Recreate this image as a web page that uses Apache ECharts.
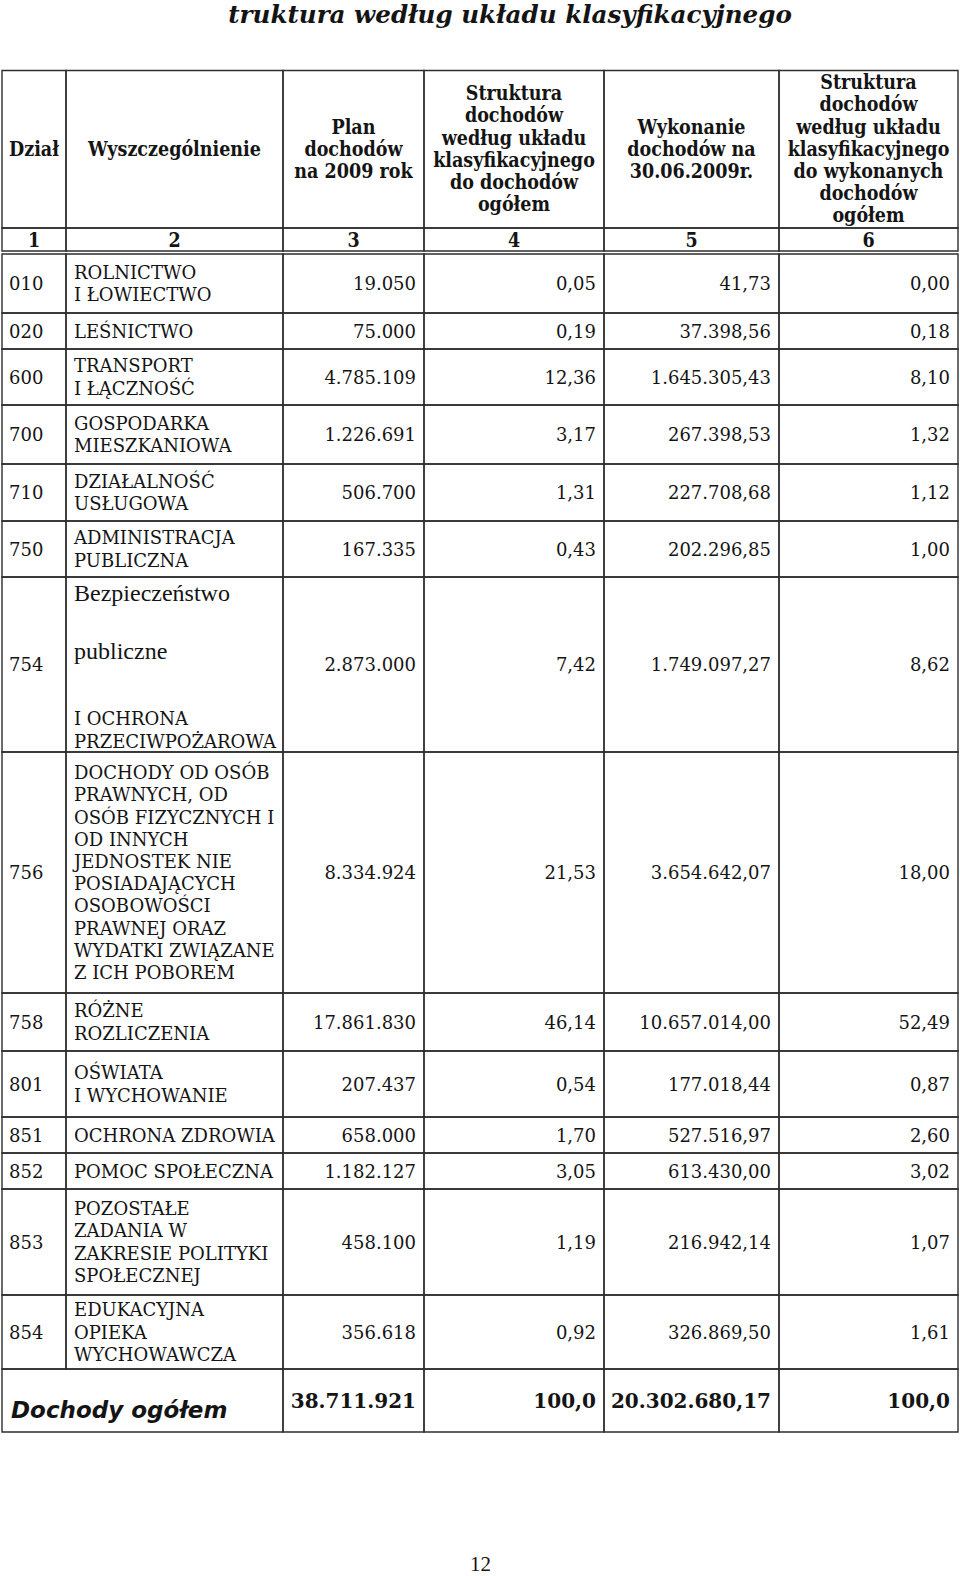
<!DOCTYPE html>
<html><head><meta charset="utf-8">
<script src="https://cdn.jsdelivr.net/npm/echarts@6/dist/echarts.min.js"></script>
<style>html,body{margin:0;padding:0;background:#fff}#c{width:960px;height:1576px}</style>
</head><body><div id="c"></div>
<script>
// ---------- DATA ----------
const title = 'truktura według układu klasyfikacyjnego';
const headers = [
  ['Dział'],
  ['Wyszczególnienie'],
  ['Plan', 'dochodów', 'na 2009 rok'],
  ['Struktura', 'dochodów', 'według układu', 'klasyfikacyjnego', 'do dochodów', 'ogółem'],
  ['Wykonanie', 'dochodów na', '30.06.2009r.'],
  ['Struktura', 'dochodów', 'według układu', 'klasyfikacyjnego', 'do wykonanych', 'dochodów', 'ogółem']
];
const colNumbers = ['1', '2', '3', '4', '5', '6'];
const codes = ['010', '020', '600', '700', '710', '750', '754', '756', '758', '801', '851', '852', '853', '854'];
const names = [
  ['ROLNICTWO', 'I ŁOWIECTWO'],
  ['LEŚNICTWO'],
  ['TRANSPORT', 'I ŁĄCZNOŚĆ'],
  ['GOSPODARKA', 'MIESZKANIOWA'],
  ['DZIAŁALNOŚĆ', 'USŁUGOWA'],
  ['ADMINISTRACJA', 'PUBLICZNA'],
  ['Bezpieczeństwo', 'publiczne', 'I OCHRONA', 'PRZECIWPOŻAROWA'],
  ['DOCHODY OD OSÓB', 'PRAWNYCH, OD', 'OSÓB FIZYCZNYCH I', 'OD INNYCH', 'JEDNOSTEK NIE', 'POSIADAJĄCYCH', 'OSOBOWOŚCI', 'PRAWNEJ ORAZ', 'WYDATKI ZWIĄZANE', 'Z ICH POBOREM'],
  ['RÓŻNE', 'ROZLICZENIA'],
  ['OŚWIATA', 'I WYCHOWANIE'],
  ['OCHRONA ZDROWIA'],
  ['POMOC SPOŁECZNA'],
  ['POZOSTAŁE', 'ZADANIA W', 'ZAKRESIE POLITYKI', 'SPOŁECZNEJ'],
  ['EDUKACYJNA', 'OPIEKA', 'WYCHOWAWCZA']
];
const plan = [19050, 75000, 4785109, 1226691, 506700, 167335, 2873000, 8334924, 17861830, 207437, 658000, 1182127, 458100, 356618];
const planShare = [0.05, 0.19, 12.36, 3.17, 1.31, 0.43, 7.42, 21.53, 46.14, 0.54, 1.70, 3.05, 1.19, 0.92];
const execution = [41.73, 37398.56, 1645305.43, 267398.53, 227708.68, 202296.85, 1749097.27, 3654642.07, 10657014.00, 177018.44, 527516.97, 613430.00, 216942.14, 326869.50];
const execShare = [0.00, 0.18, 8.10, 1.32, 1.12, 1.00, 8.62, 18.00, 52.49, 0.87, 2.60, 3.02, 1.07, 1.61];
const totalLabel = 'Dochody ogółem';
const totalPlan = 38711921;
const totalPlanShare = 100.0;
const totalExecution = 20302680.17;
const totalExecShare = 100.0;
const pageNumber = '12';

// ---------- LAYOUT ----------
const L = {
  colX: [2, 66, 283, 424, 604, 779, 958],
  headerTop: 70.5,
  headerBottom: 228,
  numRowBottom: 251,
  rowEdges: [254, 313, 349, 405, 464, 521, 577, 752, 993, 1051, 1117, 1153, 1189, 1295, 1369],
  totalBottom: 1432,
  lineH: 22.2,
  headerLineH: 22.2,
  specialRow: 6,
  specialOffsets: [16, 74, 141, 164],
  specialFonts: ['24px "Liberation Serif"', '24px "Liberation Serif"', null, null]
};
const LINE = '#2e2e2e', LW = 1.4, INK = '#141414';
const BODY_FONT = '18px "DejaVu Serif"';
const HEAD_FONT = 'bold 19.5px "DejaVu Serif Condensed", "Liberation Serif", serif';

function fmt(v, d) {
  const s = v.toFixed(d);
  const parts = s.split('.');
  const i = parts[0].replace(/\B(?=(\d{3})+(?!\d))/g, '.');
  return parts.length > 1 ? i + ',' + parts[1] : i;
}
function txt(t, x, y, align, font, extra) {
  return Object.assign({ type: 'text', style: { text: t, x: x, y: y, align: align, verticalAlign: 'middle', font: font, fill: INK } }, extra || {});
}
function cell(x0, x1, y0, y1) {
  return { type: 'rect', shape: { x: x0, y: y0, width: x1 - x0, height: y1 - y0 }, style: { fill: 'none', stroke: LINE, lineWidth: LW } };
}

function renderHeader(params, api) {
  const c = api.value(0);
  const x0 = L.colX[c], x1 = L.colX[c + 1], cx = (x0 + x1) / 2;
  const ch = [cell(x0, x1, L.headerTop, L.headerBottom), cell(x0, x1, L.headerBottom, L.numRowBottom)];
  const lines = headers[c];
  const cy = (L.headerTop + L.headerBottom) / 2;
  lines.forEach((ln, k) => {
    ch.push(txt(ln, cx, cy + (k - (lines.length - 1) / 2) * L.headerLineH, 'center', HEAD_FONT));
  });
  ch.push(txt(colNumbers[c], cx, (L.headerBottom + L.numRowBottom) / 2 + 0.5, 'center', HEAD_FONT));
  return { type: 'group', children: ch };
}

function renderRow(params, api) {
  const i = api.value(0);
  const top = L.rowEdges[i], bot = L.rowEdges[i + 1];
  const cy = (top + bot) / 2;
  const ch = [];
  for (let c = 0; c < 6; c++) ch.push(cell(L.colX[c], L.colX[c + 1], top, bot));
  ch.push(txt(codes[i], L.colX[0] + 7, cy, 'left', BODY_FONT));
  const lines = names[i];
  lines.forEach((ln, k) => {
    let y = cy + (k - (lines.length - 1) / 2) * L.lineH;
    let f = BODY_FONT;
    if (i === L.specialRow) {
      y = top + L.specialOffsets[k];
      f = L.specialFonts[k] || BODY_FONT;
    }
    ch.push(txt(ln, L.colX[1] + 8, y, 'left', f));
  });
  const vals = [fmt(plan[i], 0), fmt(planShare[i], 2), fmt(execution[i], 2), fmt(execShare[i], 2)];
  vals.forEach((v, k) => ch.push(txt(v, L.colX[k + 3] - 8, cy, 'right', BODY_FONT)));
  return { type: 'group', children: ch };
}

function renderTotal(params, api) {
  const top = L.rowEdges[L.rowEdges.length - 1], bot = L.totalBottom;
  const ch = [cell(L.colX[0], L.colX[2], top, bot)];
  for (let c = 2; c < 6; c++) ch.push(cell(L.colX[c], L.colX[c + 1], top, bot));
  ch.push(txt(totalLabel, 11, top + 41, 'left', 'italic bold 23px "DejaVu Sans"'));
  const vals = [fmt(totalPlan, 0), fmt(totalPlanShare, 1), fmt(totalExecution, 2), fmt(totalExecShare, 1)];
  const nf = 'bold 20px "DejaVu Serif"';
  vals.forEach((v, k) => ch.push(txt(v, L.colX[k + 3] - 8, top + 31.5, 'right', nf)));
  return { type: 'group', children: ch };
}

const chart = echarts.init(document.getElementById('c'), null, { renderer: 'svg', width: 960, height: 1576 });
chart.setOption({
  backgroundColor: '#ffffff',
  animation: false,
  title: {
    text: title, left: 505, top: -3, textAlign: 'center',
    textStyle: { fontFamily: 'DejaVu Serif', fontStyle: 'italic', fontWeight: 'bold', fontSize: 24.6, color: INK }
  },
  graphic: [{
    type: 'text', left: 470, top: 1553,
    style: { text: pageNumber, font: '21px "Liberation Serif"', fill: INK }
  }],
  series: [
    { type: 'custom', coordinateSystem: 'none', silent: true, data: colNumbers.map((d, k) => [k]), renderItem: renderHeader },
    { type: 'custom', coordinateSystem: 'none', silent: true, data: codes.map((d, k) => [k]), renderItem: renderRow },
    { type: 'custom', coordinateSystem: 'none', silent: true, data: [[0]], renderItem: renderTotal }
  ]
});
</script>
</body></html>
